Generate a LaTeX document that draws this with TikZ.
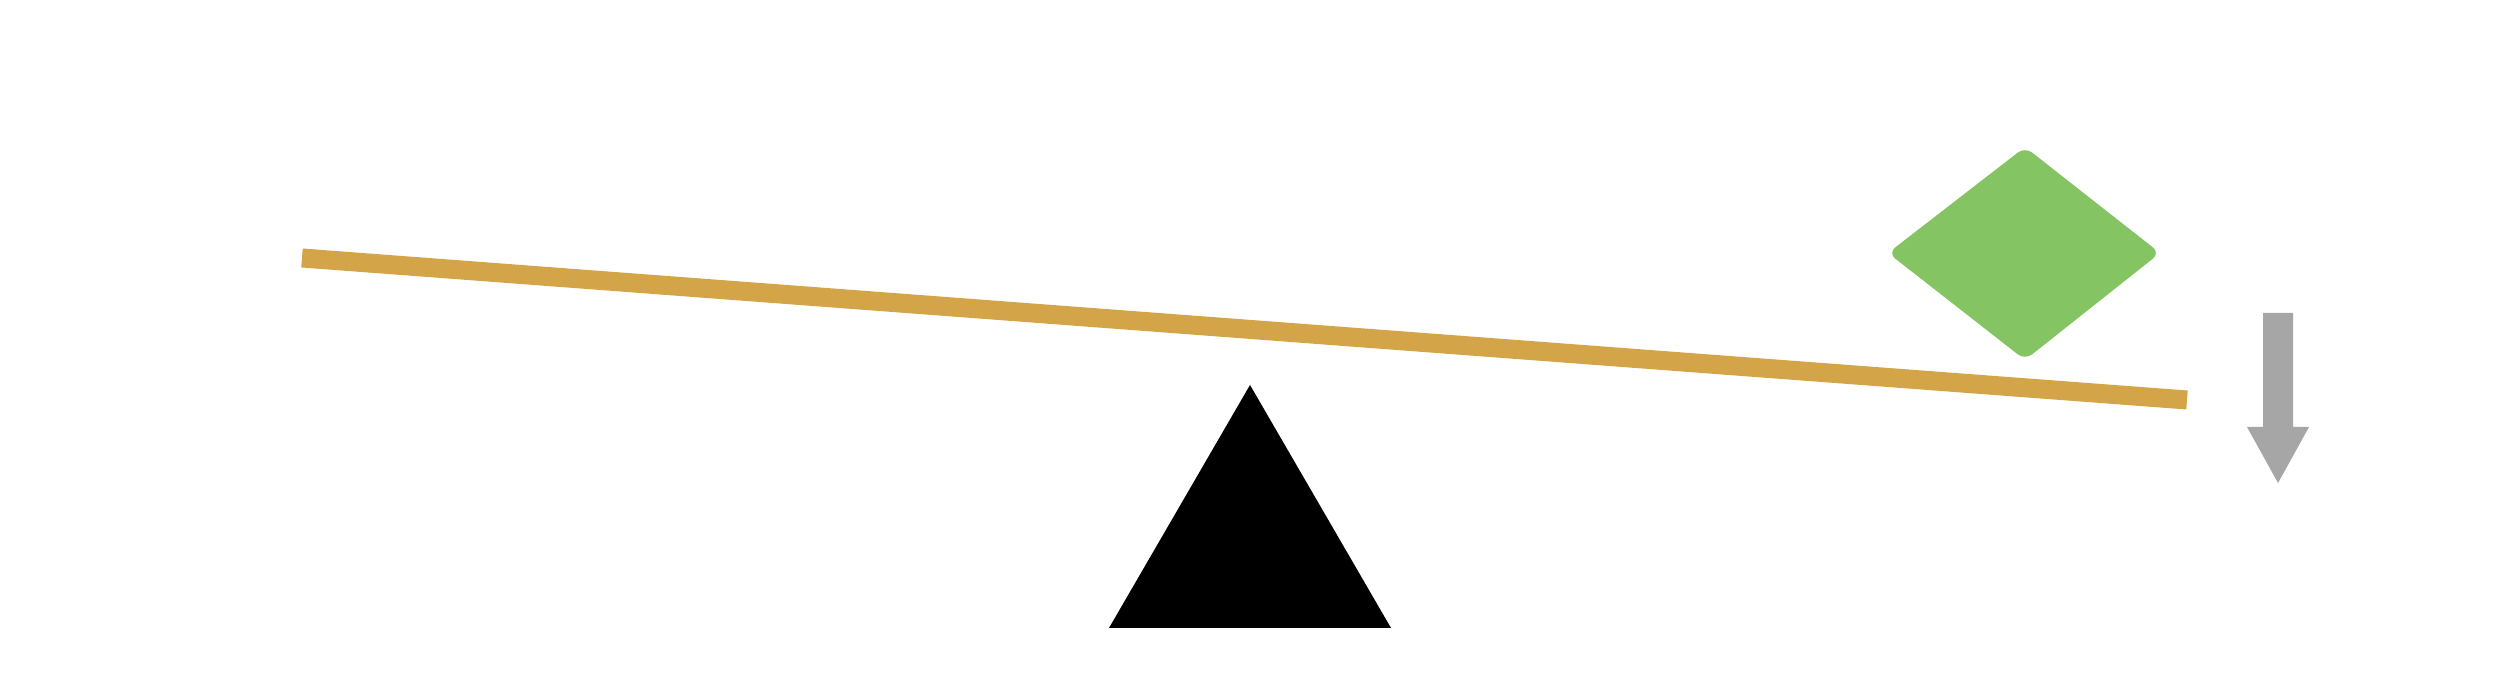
\documentclass[tikz,border=0pt]{standalone}
\usepackage{tikz}
\tikzset{
    %Define style for the beam
    beam/.style={
           draw=beamgold,
           line width=0.19cm,
           line cap=butt},
    %Define style for the load
    load/.style={
           fill=loadgreen,
           rounded corners=0.09cm},
    % Define style for the pivot
    pivot/.style={
           fill=black},
    % Define style for the force arrow
    force/.style={
           fill=forcegray}
}
\definecolor{beamgold}{HTML}{D4A548}
\definecolor{loadgreen}{HTML}{84C463}
\definecolor{forcegray}{HTML}{A6A6A6}

\begin{document}
\begin{tikzpicture}[x=0.01cm, y=-0.01cm]
  \useasboundingbox (0,0) rectangle (2500,689);
  % pivot
  \fill[pivot] (1250,385) -- (1391,628) -- (1109,628) -- cycle;
  % beam
  \coordinate (beamL) at (302,258);
  \coordinate (beamR) at (2187,400);
  \draw[beam] (beamL) -- (beamR);
  % load on the beam
  \fill[load] (2025,147) -- (2160,253) -- (2025,360) -- (1888,253) -- cycle;
  % downward force
  \fill[force] (2263,313) -- (2293,313) -- (2293,427) -- (2309,427)
    -- (2278,483) -- (2247,427) -- (2263,427) -- cycle;
\end{tikzpicture}
\end{document}
